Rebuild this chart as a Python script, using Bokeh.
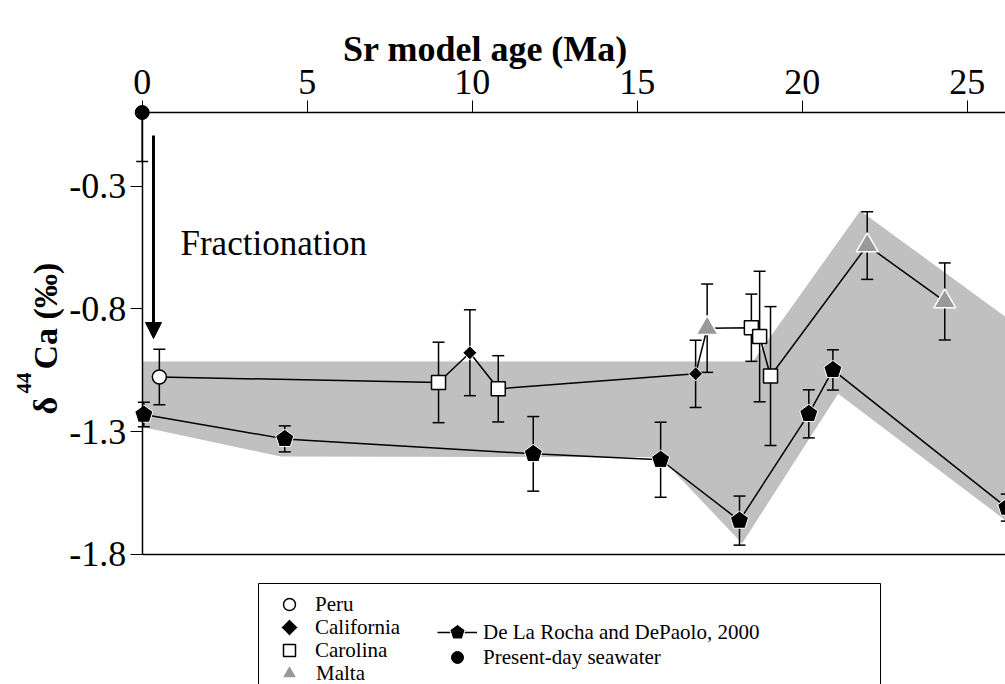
import numpy as np
from bokeh.plotting import figure
from bokeh.models import (FixedTicker, LinearAxis, Label, Arrow, NormalHead, Legend,
                          LegendItem, Range1d, BoxAnnotation, CustomJSTickFormatter)
from bokeh.embed import file_html
from bokeh.resources import INLINE

# ---------------- data ----------------
peru_age = [0.52]
peru_d = [-1.078]
peru_err = [0.113]

cal_age = [9.93, 16.77]
cal_d = [-0.979, -1.065]
cal_err = [0.175, 0.137]

car_age = [8.98, 10.79, 18.46, 18.71, 19.04]
car_d = [-1.100, -1.126, -0.877, -0.913, -1.074]
car_err = [0.164, 0.135, 0.137, 0.266, 0.283]

mal_age = [17.12, 21.97, 24.32]
mal_d = [-0.879, -0.542, -0.770]
mal_err = [0.180, 0.138, 0.157]

dlr_age = [0.05, 4.32, 11.85, 15.71, 18.10, 20.20, 20.93, 26.20]
dlr_d = [-1.231, -1.330, -1.391, -1.415, -1.663, -1.228, -1.049, -1.610]
dlr_err = [0.050, 0.053, 0.152, 0.153, 0.100, 0.098, 0.082, 0.055]

sw_age = [0.0]
sw_d = [0.0]
sw_err_lo = [0.2]

band_up_age = [0.0, 18.5, 21.76, 26.2]
band_up_d = [-1.015, -1.015, -0.400, -0.837]
band_lo_age = [0.0, 4.2, 15.7, 18.18, 21.09, 26.2]
band_lo_d = [-1.282, -1.402, -1.405, -1.756, -1.146, -1.666]

x_ticks = [0, 5, 10, 15, 20, 25]
y_ticks = [-0.3, -0.8, -1.3, -1.8]

FONT = "Liberation Serif"
W, H = 1005, 684
X0PX, XS = 141.7, 33.0      # pixel of age 0, pixels per Ma
Y0PX, YS = 112.0, 245.4     # pixel of delta 0, pixels per permil


def dx(px):
    return (px - X0PX) / XS


def dy(py):
    return (Y0PX - py) / YS


# ---------------- figure ----------------
p = figure(width=W, height=H, output_backend="svg", toolbar_location=None,
           x_range=Range1d(dx(0), dx(W)), y_range=Range1d(dy(H), dy(0)),
           x_axis_location="above", min_border=0)
p.grid.visible = False
p.outline_line_color = None
p.background_fill_color = "white"
p.border_fill_color = "white"

for ax in [p.xaxis[0], p.yaxis[0]]:
    ax.fixed_location = 0
    ax.axis_line_width = 1.5
    ax.axis_line_color = "black"
    ax.major_tick_line_color = "black"
    ax.major_tick_line_width = 1
    ax.major_tick_out = 12
    ax.major_tick_in = 0
    ax.minor_tick_line_color = None
    ax.major_label_text_font = FONT
    ax.major_label_text_font_size = "36px"
    ax.major_label_text_color = "black"
p.xaxis[0].ticker = FixedTicker(ticks=x_ticks)
p.xaxis[0].bounds = (0, 40)
p.xaxis[0].major_label_standoff = 7
p.yaxis[0].ticker = FixedTicker(ticks=y_ticks)
p.yaxis[0].bounds = (-1.8, 0)
p.yaxis[0].major_label_standoff = 4
p.yaxis[0].formatter = CustomJSTickFormatter(code="return tick.toFixed(1);")

bottom = LinearAxis(fixed_location=-1.8, bounds=(0, 40), major_tick_line_color=None,
                    minor_tick_line_color=None, major_label_text_font_size="0px",
                    axis_line_width=1.5, axis_line_color="black")
bottom.ticker = FixedTicker(ticks=[])
p.add_layout(bottom, "below")

# grey band
band_x = band_up_age + band_lo_age[::-1]
band_y = band_up_d + band_lo_d[::-1]
p.patch(band_x, band_y, fill_color="#c0c0c0", line_color=None)

# sample connecting line (sorted by age)
samp = sorted(zip(peru_age + cal_age + car_age + mal_age, peru_d + cal_d + car_d + mal_d))
p.line([s[0] for s in samp], [s[1] for s in samp], line_color="black", line_width=1.5)

# De La Rocha line
dlr_line = p.line(dlr_age, dlr_d, line_color="black", line_width=1.5)


def errbars(age, lo, hi):
    p.segment(x0=age, y0=lo, x1=age, y1=hi, line_color="black", line_width=1.5)
    p.scatter(x=age, y=lo, marker="dash", size=12, line_color="black", line_width=1.5)
    p.scatter(x=age, y=hi, marker="dash", size=12, line_color="black", line_width=1.5)


for a, d, e in [(peru_age, peru_d, peru_err), (cal_age, cal_d, cal_err),
                (car_age, car_d, car_err), (mal_age, mal_d, mal_err),
                (dlr_age, dlr_d, dlr_err)]:
    errbars(a, [v - s for v, s in zip(d, e)], [v + s for v, s in zip(d, e)])
p.segment(x0=sw_age, y0=[v - s for v, s in zip(sw_d, sw_err_lo)], x1=sw_age, y1=sw_d,
          line_color="black", line_width=1.5)
p.scatter(x=sw_age, y=[v - s for v, s in zip(sw_d, sw_err_lo)], marker="dash", size=12,
          line_color="black", line_width=1.5)

r_dlr = p.ngon(x=dlr_age, y=dlr_d, radius=9.5, radius_units="screen", n=5,
               angle=0, fill_color="black", line_color="white", line_width=1)
r_peru = p.scatter(peru_age, peru_d, marker="circle", size=14, fill_color="white",
                   line_color="black", line_width=1.5)
r_cal = p.ngon(x=cal_age, y=cal_d, radius=7, radius_units="screen", n=4, angle=0,
               fill_color="black", line_color="white", line_width=1)
r_car = p.scatter(car_age, car_d, marker="square", size=14, fill_color="white",
                  line_color="black", line_width=1.5)
r_mal = p.scatter(mal_age, mal_d, marker="triangle", size=22, fill_color="#999999",
                  line_color="white", line_width=1.5)
r_sw = p.scatter(sw_age, sw_d, marker="circle", size=14, fill_color="black",
                 line_color="black")

# annotation: arrow + text
p.add_layout(Arrow(x_start=dx(153), y_start=dy(135), x_end=dx(153), y_end=dy(338),
                   line_width=3, line_color="black",
                   end=NormalHead(size=16, fill_color="black", line_color="black")))
p.add_layout(Label(x=dx(180), y=dy(243), text="Fractionation", text_font=FONT,
                   text_font_size="35px", text_color="black",
                   text_align="left", text_baseline="alphabetic"))

# axis titles
p.add_layout(Label(x=dx(485), y=dy(48), text="Sr model age (Ma)", text_font=FONT,
                   text_font_style="bold", text_font_size="36px", text_color="black",
                   text_align="center", text_baseline="alphabetic"))
p.add_layout(Label(x=dx(45), y=dy(414), text="δ", angle=np.pi / 2, text_font=FONT,
                   text_font_style="bold", text_font_size="34px", text_color="black",
                   text_align="left", text_baseline="alphabetic"))
p.add_layout(Label(x=dx(23), y=dy(393), text="44", angle=np.pi / 2, text_font=FONT,
                   text_font_style="bold", text_font_size="21px", text_color="black",
                   text_align="left", text_baseline="alphabetic"))
p.add_layout(Label(x=dx(45), y=dy(369), text="Ca (‰)", angle=np.pi / 2, text_font=FONT,
                   text_font_style="bold", text_font_size="34px", text_color="black",
                   text_align="left", text_baseline="alphabetic"))

# legend box
p.add_layout(BoxAnnotation(left=dx(258), right=dx(880), top=dy(583), bottom=dy(H + 40),
                           fill_color="white", fill_alpha=1, line_color="black",
                           line_width=1, line_alpha=1))


def add_legend(label, renderers, gx, gy, gw, gh, standoff):
    leg = Legend(items=[LegendItem(label=label, renderers=renderers)],
                 location=(gx - gw / 2, H - (gy + gh / 2)), orientation="vertical",
                 label_text_font=FONT, label_text_font_size="21px",
                 label_text_color="black",
                 glyph_width=gw, glyph_height=gh, spacing=0, padding=0, margin=0,
                 label_standoff=standoff, label_height=10,
                 border_line_color=None, background_fill_alpha=0)
    p.add_layout(leg, "center")


add_legend("Peru", [r_peru], 289, 604, 30, 30, 11)
add_legend("California", [r_cal], 289, 627, 42, 42, 5)
add_legend("Carolina", [r_car], 289, 650, 30, 30, 11)
add_legend("Malta", [r_mal], 289, 673, 38, 38, 8)
add_legend("De La Rocha and DePaolo, 2000", [dlr_line, r_dlr], 457, 632, 40, 42, 6)
add_legend("Present-day seawater", [r_sw], 457, 657, 40, 30, 6)

open("out.html", "w").write(file_html(p, INLINE))
